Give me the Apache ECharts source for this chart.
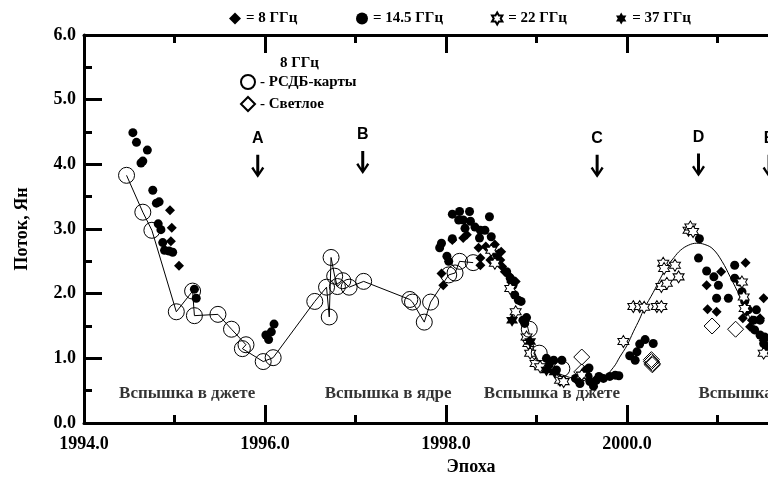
<!DOCTYPE html>
<html><head><meta charset="utf-8">
<script src="https://cdn.jsdelivr.net/npm/echarts@6/dist/echarts.min.js"></script>
<style>html,body{margin:0;padding:0;background:#fff}#c{width:768px;height:481px}</style>
</head><body><div id="c"></div>
<script>
// ---------- DATA (year, flux in Jy) ----------
const flux8GHz = [
  [1994.95,3.29],[1994.97,3.02],[1994.96,2.81],[1995.05,2.43],
  [1997.95,2.31],[1997.97,2.13],[1998.07,2.83],[1998.19,2.86],[1998.23,2.91],[1998.36,2.71],
  [1998.44,2.73],[1998.54,2.76],[1998.38,2.55],[1998.38,2.44],[1998.49,2.52],[1998.58,2.62],
  [1998.60,2.52],[1998.62,2.42],[1998.65,2.34],[1998.69,2.29],[1998.74,2.21],[1998.77,2.19],
  [1998.61,2.65],[1998.72,2.18],
  [2000.88,2.13],[2000.89,1.76],[2000.99,1.72],[2001.04,2.34],[2001.31,2.48],[2001.28,1.62],
  [2001.51,1.93],[2001.36,1.49],[2001.32,1.72],[2001.38,1.59],[2001.47,1.62],[2001.51,1.28]
];
const flux14GHz = [
  [1994.54,4.49],[1994.58,4.34],[1994.70,4.22],[1994.63,4.02],[1994.65,4.05],[1994.76,3.60],
  [1994.80,3.40],[1994.83,3.42],[1994.82,3.08],[1994.85,2.99],[1994.87,2.79],[1994.89,2.67],
  [1994.94,2.66],[1994.98,2.64],[1995.22,2.07],[1995.24,1.93],
  [1996.01,1.36],[1996.04,1.29],[1996.07,1.41],[1996.10,1.53],
  [1997.93,2.71],[1997.95,2.78],[1998.01,2.58],[1998.03,2.50],[1998.07,2.85],[1998.07,3.23],
  [1998.15,3.27],[1998.26,3.27],[1998.14,3.14],[1998.19,3.14],[1998.27,3.12],[1998.48,3.19],
  [1998.21,3.01],[1998.32,3.03],[1998.38,2.98],[1998.43,2.98],[1998.37,2.86],[1998.50,2.88],
  [1998.56,2.60],[1998.67,2.34],[1998.71,2.24],[1998.74,2.13],[1998.76,1.98],[1998.80,1.90],
  [1998.83,1.88],[1998.85,1.59],[1998.87,1.54],[1998.89,1.63],
  [1999.11,1.00],[1999.19,0.97],[1999.28,0.97],[1999.14,0.90],[1999.22,0.82],[1999.43,0.69],
  [1999.46,0.66],[1999.55,0.82],[1999.58,0.85],[1999.57,0.72],[1999.59,0.64],[1999.66,0.66],
  [1999.69,0.72],[1999.74,0.69],[1999.81,0.72],[1999.87,0.74],[1999.91,0.73],[1999.48,0.61],
  [1999.63,0.57],
  [2000.03,1.04],[2000.09,0.97],[2000.11,1.10],[2000.14,1.22],[2000.20,1.29],[2000.29,1.23],
  [2000.80,2.85],[2000.79,2.55],[2000.88,2.35],[2000.96,2.26],[2001.01,2.13],[2000.99,1.93],
  [2001.12,1.93],[2001.19,2.44],[2001.19,2.24],[2001.25,2.18],[2001.27,2.03],[2001.30,1.88],
  [2001.34,1.75],[2001.43,1.75],[2001.40,1.59],[2001.47,1.59],[2001.41,1.44],[2001.47,1.36],
  [2001.52,1.33],[2001.51,1.23],[2001.54,1.18]
];
const flux22GHz = [
  [1998.50,2.67],[1998.54,2.47],[1998.71,2.08],[1998.77,1.72],[1998.89,1.33],[1998.91,1.23],
  [1998.93,1.08],[1998.99,0.92],[1999.04,0.87],[1999.26,0.66],[1999.30,0.64],[1999.50,0.74],
  [1999.96,1.26],[2000.07,1.80],[2000.14,1.80],[2000.19,1.79],[2000.33,1.80],[2000.38,1.80],
  [2000.38,2.11],[2000.44,2.16],[2000.40,2.47],[2000.41,2.39],[2000.53,2.44],[2000.57,2.26],
  [2000.68,2.98],[2000.70,3.03],[2000.73,2.96],
  [2001.27,2.18],[2001.29,1.95],[2001.30,1.77],[2001.51,1.08]
];
const flux37GHz = [
  [1998.73,1.59],[1998.93,1.26],[1999.11,0.82],[1999.20,0.79]
];
const vlbiMaps = [
  [1994.47,3.83],[1994.65,3.26],[1994.75,2.98],[1995.02,1.72],[1995.20,2.04],[1995.22,1.66],
  [1995.48,1.68],[1995.63,1.45],[1995.79,1.21],[1995.75,1.15],[1995.98,0.95],[1996.09,1.01],
  [1996.55,1.88],[1996.68,2.10],[1996.71,1.64],[1996.73,2.56],[1996.77,2.27],[1996.80,2.11],
  [1996.86,2.20],[1996.93,2.10],[1997.09,2.19],[1997.60,1.91],[1997.63,1.87],[1997.76,1.56],
  [1997.83,1.87],[1998.03,2.29],[1998.10,2.32],[1998.15,2.50],[1998.30,2.48]
];
const vlbiMapsLate = [[1998.92,1.45],[1999.03,1.08],[1999.28,0.84]];
const svetloe8GHz = [
  [1999.50,1.02],[1999.50,0.79],[2000.27,0.98],[2000.27,0.95],[2000.28,0.92],[2000.28,0.90],
  [2000.94,1.50],[2001.20,1.45]
];
const modelCurve = [
  [1998.90,1.50],[1998.97,1.13],[1999.04,0.93],[1999.15,0.82],[1999.25,0.76],[1999.41,0.69],
  [1999.59,0.65],[1999.72,0.68],[1999.85,0.86],[1999.92,1.02],[2000.00,1.20],[2000.07,1.41],
  [2000.14,1.61],[2000.19,1.77],[2000.29,2.02],[2000.37,2.24],[2000.44,2.41],[2000.52,2.56],
  [2000.59,2.67],[2000.68,2.75],[2000.77,2.78],[2000.86,2.76],[2000.95,2.69],[2001.05,2.50],
  [2001.14,2.26],[2001.25,1.95],[2001.35,1.65],[2001.45,1.40],[2001.55,1.20],[2001.65,1.05]
];
const eventLetters = ['A','B','C','D','E'];
const eventPoints = [[1995.92,3.97],[1997.08,4.03],[1999.67,3.97],[2000.79,3.99],[2001.57,3.97]];
const phaseNames = ['Вспышка в джете','Вспышка в ядре','Вспышка в джете','Вспышка в ядре'];
const phasePoints = [[1995.14,0.45],[1997.36,0.45],[1999.17,0.45],[2001.49,0.45]];
const xTickLabels = ['1994.0','1996.0','1998.0','2000.0','2002.0'];
const yTickLabels = ['0.0','1.0','2.0','3.0','4.0','5.0','6.0'];
const freqLegendNames = ['= 8 ГГц','= 14.5 ГГц','= 22 ГГц','= 37 ГГц'];

// ---------- CHART ----------
const STAR = 'path://M50,0 L64.4,25 L93.3,25 L78.9,50 L93.3,75 L64.4,75 L50,100 L35.6,75 L6.7,75 L21.1,50 L6.7,25 L35.6,25 Z';
const ARROW = 'path://M4.5,0 L7.5,0 L7.5,17 L10.5,12 L12.5,13.5 L6,23 L-0.5,13.5 L1.5,12 L4.5,17 Z';
const SERIF = '"Liberation Serif","Times New Roman",serif';
const chart = echarts.init(document.getElementById('c'), null, {renderer:'canvas'});
const axisCommon = {
  type:'value', splitLine:{show:false},
  axisLine:{show:true, onZero:false, lineStyle:{color:'#000', width:3}},
  axisTick:{show:true, inside:true, length:18, lineStyle:{color:'#000', width:3}},
  minorTick:{show:true, splitNumber:2, length:8, lineStyle:{color:'#000', width:3}}
};
const legendLefts = [224, 351, 486, 611];
const freqLegends = freqLegendNames.map((n,i)=>({
  left:legendLefts[i], top:6, itemWidth:12, itemHeight:12, data:[n],
  textStyle:{fontFamily:SERIF, fontWeight:'bold', fontSize:15, color:'#000'}
}));
chart.setOption({
  animation:false,
  backgroundColor:'#fff',
  grid:{left:84, top:35, width:724, height:388, outerBoundsMode:'none', containLabel:false},
  title:{text:'8 ГГц', left:275, top:51, textStyle:{fontFamily:SERIF, fontWeight:'bold', fontSize:15, color:'#000'}},
  legend:freqLegends.concat([{
    left:235, top:69, orient:'vertical', itemWidth:14, itemHeight:14, itemGap:6,
    data:['- РСДБ-карты','- Светлое'],
    textStyle:{fontFamily:SERIF, fontWeight:'bold', fontSize:15, color:'#000'}
  }]),
  xAxis:[Object.assign({}, axisCommon, {
    position:'bottom', min:1994, max:2002, interval:2,
    axisLabel:{margin:12, color:'#000', fontFamily:SERIF, fontWeight:'bold', fontSize:18,
      formatter:v=>xTickLabels[Math.round((v-1994)/2)]},
    name:'Эпоха', nameLocation:'middle', nameGap:34,
    nameTextStyle:{fontFamily:SERIF, fontWeight:'bold', fontSize:18, color:'#000', padding:[0,0,0,50]}
  }), Object.assign({}, axisCommon, {
    position:'top', min:1994, max:2002, interval:2, axisLabel:{show:false}
  })],
  yAxis:[Object.assign({}, axisCommon, {
    position:'left', min:0, max:6, interval:1,
    axisLabel:{margin:8, color:'#000', fontFamily:SERIF, fontWeight:'bold', fontSize:18,
      formatter:v=>yTickLabels[Math.round(v)]},
    name:'Поток, Ян', nameLocation:'middle', nameGap:53, nameRotate:90,
    nameTextStyle:{fontFamily:SERIF, fontWeight:'bold', fontSize:18, color:'#000'}
  })],
  series:[
    {type:'line', name:'vlbiLine', data:vlbiMaps, symbol:'none', silent:true,
      lineStyle:{color:'#000', width:1}, z:2},
    {type:'line', name:'model', xAxisIndex:1, data:modelCurve, symbol:'none', smooth:0.4, silent:true,
      lineStyle:{color:'#000', width:1}, z:2},
    {type:'scatter', name:'= 8 ГГц', data:flux8GHz, symbol:'diamond', symbolSize:10,
      itemStyle:{color:'#000', opacity:1}, z:3},
    {type:'scatter', name:'= 14.5 ГГц', data:flux14GHz, symbol:'circle', symbolSize:9,
      itemStyle:{color:'#000', opacity:1}, z:3},
    {type:'scatter', name:'= 22 ГГц', data:flux22GHz, symbol:STAR, symbolSize:[11,12],
      itemStyle:{color:'#fff', borderColor:'#000', borderWidth:1, opacity:1}, z:4},
    {type:'scatter', name:'= 37 ГГц', data:flux37GHz, symbol:STAR, symbolSize:[12,13],
      itemStyle:{color:'#000', opacity:1}, z:4},
    {type:'scatter', name:'- РСДБ-карты', data:vlbiMaps.concat(vlbiMapsLate), symbol:'circle', symbolSize:16,
      itemStyle:{color:'rgba(255,255,255,0)', borderColor:'#000', borderWidth:1, opacity:1}, z:5},
    {type:'scatter', name:'- Светлое', data:svetloe8GHz, symbol:'diamond', symbolSize:16,
      itemStyle:{color:'rgba(255,255,255,0)', borderColor:'#000', borderWidth:1, opacity:1}, z:5},
    {type:'scatter', name:'events', data:eventPoints, symbol:ARROW, symbolSize:[13,23], silent:true,
      itemStyle:{color:'#000', opacity:1},
      label:{show:true, position:'top', distance:8, color:'#000',
        fontFamily:'"Liberation Sans",Arial,sans-serif', fontWeight:'bold', fontSize:16,
        formatter:p=>eventLetters[p.dataIndex]}, z:6},
    {type:'scatter', name:'phases', data:phasePoints, symbol:'circle', symbolSize:1, silent:true,
      itemStyle:{color:'rgba(0,0,0,0)'},
      label:{show:true, position:'inside', color:'#000', fontFamily:SERIF, fontWeight:'bold', fontSize:17,
        formatter:p=>phaseNames[p.dataIndex]}, z:6}
  ]
});
</script></body></html>
